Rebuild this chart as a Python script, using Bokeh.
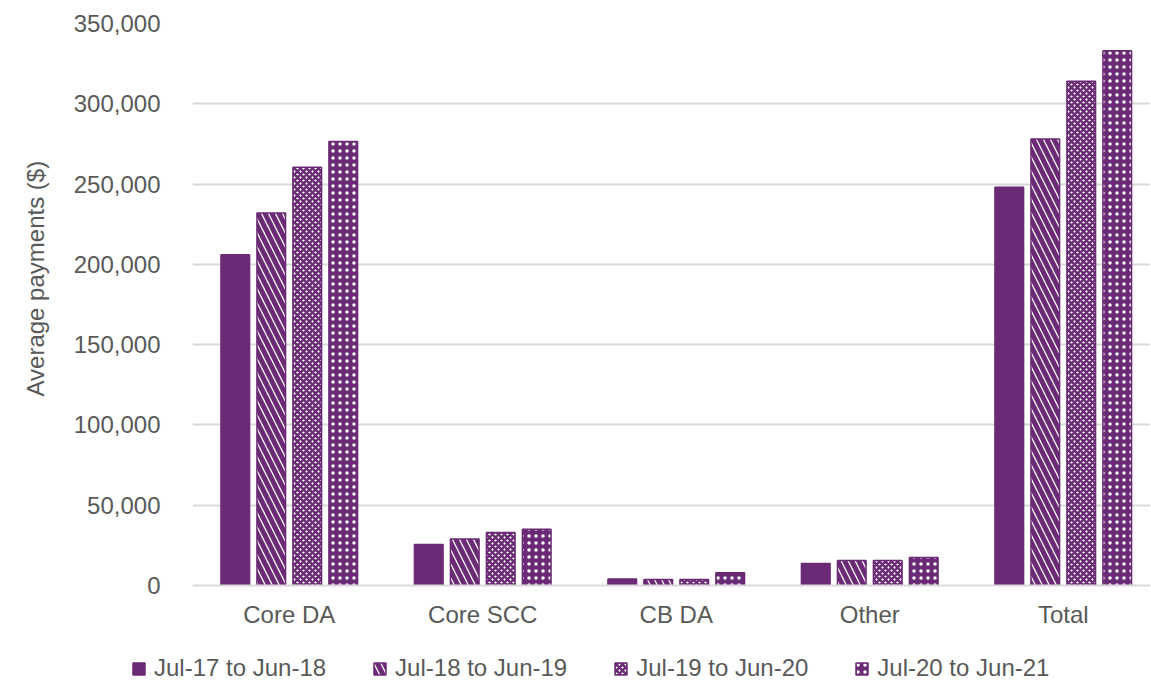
from bokeh.plotting import figure
from bokeh.models import (ColumnDataSource, Range1d, FixedTicker, NumeralTickFormatter,
                          Legend, LegendItem, Title)
from bokeh.transform import dodge
from bokeh.embed import file_html
from bokeh.resources import INLINE

categories = ["Core DA", "Core SCC", "CB DA", "Other", "Total"]
series = ["Jul-17 to Jun-18", "Jul-18 to Jun-19", "Jul-19 to Jun-20", "Jul-20 to Jun-21"]
y_ticks = [0, 50000, 100000, 150000, 200000, 250000, 300000, 350000]

v_17_18 = [206000, 25500, 4000, 13700, 248000]
v_18_19 = [232000, 29000, 3700, 15500, 278000]
v_19_20 = [260500, 33000, 3700, 15500, 314000]
v_20_21 = [276500, 35000, 8000, 17400, 333000]

PURPLE = "#6B2A75"
GREY = "#595959"
FONT = "Liberation Sans"

src = ColumnDataSource(dict(x=list(range(len(categories))),
                            s0=v_17_18, s1=v_18_19, s2=v_19_20, s3=v_20_21))

W, H = 1150, 630
LEFT, TOP, BOTTOM_Y = 192, 23, 586
p = figure(width=W, height=H, output_backend="svg", toolbar_location=None,
           x_range=Range1d(-0.5, -0.5 + (W - LEFT) / 193.5), y_range=Range1d(0, 350000),
           min_border_left=LEFT, min_border_right=0, min_border_top=TOP,
           min_border_bottom=H - BOTTOM_Y)
p.outline_line_color = None
p.background_fill_color = "white"
p.border_fill_color = "white"

offsets = [-0.279, -0.093, 0.093, 0.279]
styles = [
    dict(fill_color=PURPLE),
    dict(fill_color="white", hatch_pattern="\\", hatch_color=PURPLE, hatch_scale=14, hatch_weight=5),
    dict(fill_color="white", hatch_pattern="x", hatch_color=PURPLE, hatch_scale=6, hatch_weight=2.5),
    dict(fill_color=PURPLE, hatch_pattern=".", hatch_color="white", hatch_scale=7, hatch_weight=4),
]
for i, (off, st) in enumerate(zip(offsets, styles)):
    p.vbar(x=dodge("x", off, range=p.x_range), top=f"s{i}", width=0.148, source=src,
           line_color=PURPLE, line_width=1.5, **st)

# axes
p.xaxis.ticker = FixedTicker(ticks=list(range(len(categories))))
p.xaxis.major_label_overrides = {i: c for i, c in enumerate(categories)}
p.xaxis.major_tick_line_color = None
p.xaxis.minor_tick_line_color = None
p.xaxis.axis_line_color = "#D9D9D9"
p.xaxis.axis_line_width = 2
p.xaxis.major_label_standoff = 9
p.xaxis.major_label_text_font_size = "24px"
p.xaxis.major_label_text_font = FONT
p.xaxis.major_label_text_color = GREY

p.yaxis.ticker = FixedTicker(ticks=y_ticks)
p.yaxis.formatter = NumeralTickFormatter(format="0,0")
p.yaxis.major_tick_line_color = None
p.yaxis.minor_tick_line_color = None
p.yaxis.axis_line_color = None
p.yaxis.major_label_standoff = 26
p.yaxis.major_label_text_font_size = "24px"
p.yaxis.major_label_text_font = FONT
p.yaxis.major_label_text_color = GREY

p.xgrid.grid_line_color = None
p.ygrid.ticker = FixedTicker(ticks=y_ticks)
p.ygrid.grid_line_color = "#D9D9D9"
p.ygrid.grid_line_width = 2

ytitle = Title(text="Average payments ($)", align="left", offset=189, standoff=40,
               vertical_align="top",
               text_font_size="24px", text_font=FONT, text_color=GREY, text_font_style="normal")
p.add_layout(ytitle, "left")

# legend strip: hidden copies of the bar series supply the legend swatches
lg = figure(width=W, height=52, output_backend="svg", toolbar_location=None,
            x_axis_type=None, y_axis_type=None, min_border=0,
            x_range=Range1d(-0.5, 4.5), y_range=Range1d(0, 1))
lg.outline_line_color = None
lg.xgrid.grid_line_color = None
lg.ygrid.grid_line_color = None
items = []
for i, (s, st) in enumerate(zip(series, styles)):
    r = lg.vbar(x="x", top=f"s{i}", width=0.1, source=src, line_color=PURPLE, line_width=1.5,
                visible=False, **st)
    items.append(LegendItem(label=s, renderers=[r]))
legend = Legend(items=items, orientation="horizontal", location=(131, 0),
                glyph_width=15, glyph_height=15, label_standoff=8, spacing=46, padding=0, margin=0,
                label_text_font_size="24px", label_text_font=FONT, label_text_color=GREY,
                inactive_fill_alpha=0, border_line_color=None, background_fill_alpha=0)
lg.add_layout(legend, "center")

open("out.html", "w").write(file_html([p, lg], INLINE))
